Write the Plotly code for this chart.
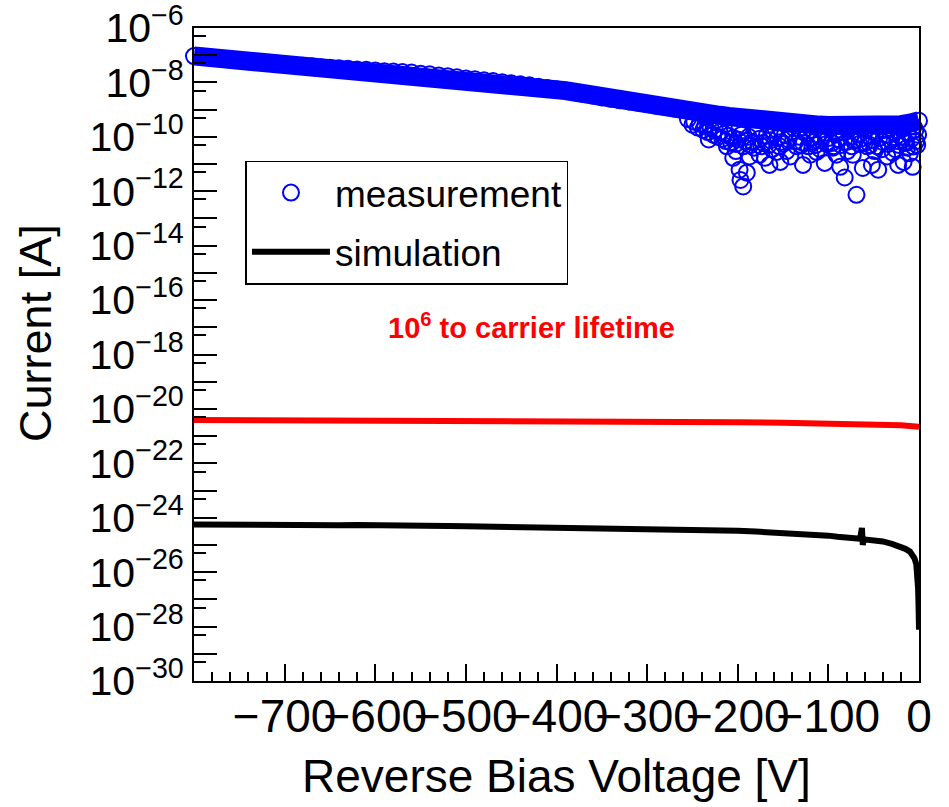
import plotly.graph_objects as go

# ---------------- data ----------------
# measurement: main band, reverse bias voltage [V] and current [A]
meas_v = [-800, -790, -780, -770, -760, -750, -740, -730, -720, -710,
          -700, -690, -680, -670, -660, -650, -640, -630, -620, -610,
          -600, -590, -580, -570, -560, -550, -540, -530, -520, -510,
          -500, -490, -480, -470, -460, -450, -440, -430, -420, -410,
          -400, -390, -380, -370, -360, -350, -340, -330, -320, -310,
          -300, -290, -280, -270, -260, -250, -240, -230, -220, -210,
          -200, -190, -180, -170, -160, -150, -140, -130, -120, -110,
          -100, -90, -80, -70, -60, -50, -40, -30, -20, -10, 0]
meas_i = [9.3e-8, 8.7e-8, 8.1e-8, 7.6e-8, 6.9e-8, 6.5e-8, 6.0e-8, 5.6e-8, 5.2e-8, 4.9e-8,
          4.6e-8, 4.4e-8, 4.1e-8, 3.9e-8, 3.6e-8, 3.5e-8, 3.3e-8, 3.2e-8, 3.0e-8, 2.9e-8,
          2.75e-8, 2.6e-8, 2.5e-8, 2.4e-8, 2.3e-8, 2.1e-8, 2.0e-8, 1.8e-8, 1.7e-8, 1.55e-8,
          1.4e-8, 1.3e-8, 1.2e-8, 1.12e-8, 1.02e-8, 9.3e-9, 8.5e-9, 7.8e-9, 6.9e-9, 6.3e-9,
          5.6e-9, 5.0e-9, 4.4e-9, 3.8e-9, 3.3e-9, 2.8e-9, 2.5e-9, 2.2e-9, 2.0e-9, 1.8e-9,
          1.6e-9, 1.4e-9, 1.26e-9, 1.1e-9, 9.8e-10, 8.7e-10, 7.8e-10, 6.9e-10, 6.2e-10, 5.6e-10,
          5.0e-10, 4.6e-10, 4.3e-10, 4.0e-10, 3.7e-10, 3.5e-10, 3.2e-10, 3.0e-10, 2.8e-10, 2.7e-10,
          2.6e-10, 2.5e-10, 2.5e-10, 2.5e-10, 2.5e-10, 2.6e-10, 2.6e-10, 2.7e-10, 2.8e-10, 3.2e-10, 3.9e-10]

# measurement: noisy low-current points below the band (-260 V .. 0 V)
meas_low_v = [-255, -248, -242, -236, -230, -225, -220, -215, -210, -205, -200, -196, -192,
              -188, -184, -180, -176, -172, -168, -164, -160, -156, -152, -148, -144, -140,
              -136, -132, -128, -124, -120, -116, -112, -108, -104, -100, -96, -92, -88, -84,
              -80, -76, -72, -68, -64, -60, -56, -52, -48, -44, -40, -36, -32, -28, -24, -20,
              -16, -12, -8, -4, -1,
              -198, -178, -158, -138, -118, -98, -78, -58, -38, -18, -6,
              -250, -244, -238, -233, -227, -222, -217, -213, -207, -202, -194, -186, -174,
              -166, -154, -150, -130, -122, -114, -102, -94, -86, -74, -66, -54, -46, -34,
              -22, -14, -3,
              -205, -198, -194, -197, -190, -187, -176, -165, -153, -170, -142, -128, -120,
              -104, -87, -82, -69, -91, -62, -52, -45, -35, -23, -17, -7, -6, -29, -73, -113, -157,
              -212, -182, -135, -95, -57, -41, -13, -2, -232, -202, -162, -146, -109, -79, -49,
              -26, -10]
meas_low_i = [4.5e-10, 3.6e-10, 3.0e-10, 2.6e-10, 2.2e-10, 1.8e-10, 1.5e-10, 1.3e-10, 1.1e-10,
              9.0e-11, 8.0e-11, 1.2e-10, 7.0e-11, 1.0e-10, 6.5e-11, 1.4e-10, 8.5e-11, 6.0e-11,
              1.1e-10, 7.5e-11, 1.3e-10, 9.0e-11, 6.5e-11, 1.2e-10, 8.0e-11, 1.5e-10, 7.0e-11,
              1.0e-10, 6.0e-11, 1.3e-10, 8.5e-11, 6.5e-11, 1.1e-10, 7.5e-11, 1.4e-10, 9.0e-11,
              6.0e-11, 1.2e-10, 8.0e-11, 1.5e-10, 6.5e-11, 1.0e-10, 7.0e-11, 1.3e-10, 8.5e-11,
              6.0e-11, 1.1e-10, 7.5e-11, 1.4e-10, 9.0e-11, 6.5e-11, 1.2e-10, 8.0e-11, 1.5e-10,
              7.0e-11, 1.0e-10, 6.5e-11, 1.3e-10, 8.5e-11, 1.8e-10, 1.2e-10,
              2.2e-10, 2.0e-10, 1.9e-10, 2.1e-10, 1.8e-10, 2.0e-10, 1.9e-10, 2.0e-10, 1.8e-10,
              2.0e-10, 2.4e-10,
              2.8e-10, 2.2e-10, 1.8e-10, 1.5e-10, 1.2e-10, 1.0e-10, 8.5e-11, 7.0e-11, 6.0e-11,
              5.5e-11, 4.5e-11, 5.0e-11, 4.5e-11, 5.0e-11, 4.5e-11, 5.5e-11, 5.0e-11, 4.5e-11,
              5.0e-11, 5.5e-11, 4.5e-11, 5.0e-11, 4.5e-11, 5.5e-11, 5.0e-11, 4.5e-11, 5.5e-11,
              5.0e-11, 6.0e-11, 7.0e-11,
              1.7e-11, 6.2e-12, 1.5e-12, 2.6e-12, 4.8e-12, 1.9e-11, 2.2e-11, 9.3e-12, 1.2e-11,
              1.7e-11, 1.9e-11, 9.3e-12, 2.2e-11, 1.1e-11, 7.9e-12, 3.2e-12, 7.4e-13, 2.2e-11,
              7.2e-12, 9.3e-12, 6.2e-12, 1.9e-11, 9.3e-12, 1.2e-11, 7.9e-12, 4.4e-11, 2.6e-11,
              2.2e-11, 2.8e-11, 2.8e-11,
              4.5e-11, 4.0e-11, 4.5e-11, 4.0e-11, 4.5e-11, 3.5e-11, 4.0e-11, 5.0e-11, 8.0e-11,
              3.0e-11, 3.5e-11, 3.0e-11, 3.5e-11, 3.0e-11, 3.0e-11, 3.5e-11, 2.5e-11]

# simulation (black)
sim_v = [-800, -780, -760, -740, -720, -700, -680, -660, -640, -620, -600, -580, -560,
         -540, -520, -500, -480, -460, -440, -420, -400, -380, -360, -340, -320, -300,
         -280, -260, -240, -220, -200, -180, -160, -140, -120, -100, -90, -80, -70, -65,
         -63, -62, -61, -60, -55, -50, -40, -30, -20, -15, -10, -7, -5, -3, -2, -1, -0.5, 0]
sim_i = [5.6e-25, 5.5e-25, 5.7e-25, 5.5e-25, 5.6e-25, 5.5e-25, 5.4e-25, 5.5e-25, 5.3e-25,
         5.4e-25, 5.2e-25, 5.2e-25, 5.1e-25, 5.0e-25, 5.0e-25, 4.9e-25, 4.8e-25, 4.8e-25,
         4.7e-25, 4.6e-25, 4.5e-25, 4.5e-25, 4.4e-25, 4.3e-25, 4.2e-25, 4.1e-25, 4.0e-25,
         3.9e-25, 3.7e-25, 3.5e-25, 3.3e-25, 3.1e-25, 2.9e-25, 2.6e-25, 2.4e-25, 2.2e-25,
         2.0e-25, 1.9e-25, 1.75e-25, 1.7e-25, 4.2e-25, 1.0e-25, 1.7e-25, 1.6e-25, 1.55e-25,
         1.5e-25, 1.35e-25, 1.1e-25, 8.5e-26, 7.2e-26, 5.7e-26, 4.3e-26, 3.2e-26, 2.0e-26,
         9.5e-27, 2.5e-27, 6.0e-28, 7.6e-29]

# simulation with 10^6 carrier lifetime (red)
red_v = [-800, -700, -600, -500, -400, -300, -200, -150, -100, -50, -20, 0]
red_i = [3.9e-21, 3.85e-21, 3.8e-21, 3.7e-21, 3.6e-21, 3.45e-21, 3.25e-21, 3.1e-21,
         2.95e-21, 2.7e-21, 2.5e-21, 2.2e-21]

# axis ticks
y_major_exp = list(range(-30, -5))
x_major = [-700, -600, -500, -400, -300, -200, -100, 0]

FONT = "Liberation Sans, Arial, Helvetica, sans-serif"
BLUE = "#0000ff"

fig = go.Figure()

# solid core of the dense measurement band
fig.add_trace(go.Scatter(x=meas_v, y=meas_i, mode="lines",
                         line=dict(color=BLUE, width=19), showlegend=False,
                         hoverinfo="skip"))
fig.add_trace(go.Scatter(x=meas_v + meas_low_v, y=meas_i + meas_low_i, mode="markers",
                         name="measurement", cliponaxis=False,
                         marker=dict(symbol="circle-open", size=16, color=BLUE,
                                     line=dict(color=BLUE, width=2)),
                         legendgroup="a"))
fig.add_trace(go.Scatter(x=red_v, y=red_i, mode="lines",
                         line=dict(color="#ff0000", width=6), showlegend=False))
fig.add_trace(go.Scatter(x=sim_v, y=sim_i, mode="lines", name="simulation",
                         line=dict(color="black", width=6), legendgroup="b"))

ytickvals = [10.0 ** e for e in y_major_exp]
yticktext = [("10<sup>\u2212%d</sup>" % (-e)) if e % 2 == 0 else "" for e in y_major_exp]
yminor = [5 * 10.0 ** (e - 1) for e in y_major_exp[1:]]

fig.update_layout(
    width=949, height=807,
    margin=dict(l=194, r=30, t=28, b=126, autoexpand=False),
    paper_bgcolor="white", plot_bgcolor="white",
    font=dict(family=FONT, color="black"),
    showlegend=True,
    legend=dict(x=0.071, y=0.797, xanchor="left", yanchor="top",
                bordercolor="black", borderwidth=1.5, bgcolor="white",
                font=dict(size=37, family=FONT), traceorder="grouped",
                tracegroupgap=8, itemwidth=78),
    xaxis=dict(range=[-800, 0], showgrid=False, zeroline=False, automargin=False,
               showline=True, linecolor="black", linewidth=2, mirror=True,
               ticks="inside", ticklen=17, tickwidth=1.5, tickcolor="black",
               tickmode="array", tickvals=x_major, tickangle=0,
               ticklabelstandoff=-6, ticklabeloverflow="allow",
               tickfont=dict(size=46, family=FONT),
               minor=dict(ticks="inside", ticklen=9, tickwidth=1.5, tickcolor="black",
                          dtick=20, tick0=0)),
    yaxis=dict(type="log", range=[-30.0005, -5.9995], showgrid=False, zeroline=False,
               automargin=False, ticklabeloverflow="allow",
               showline=True, linecolor="black", linewidth=2, mirror=True,
               ticks="inside", ticklen=23, tickwidth=1.5, tickcolor="black",
               tickmode="array", tickvals=ytickvals, ticktext=yticktext,
               tickfont=dict(size=41, family=FONT),
               minor=dict(ticks="inside", ticklen=12, tickwidth=1.5, tickcolor="black",
                          tickmode="array", tickvals=yminor)),
    annotations=[
        dict(text="Current [A]", xref="paper", yref="paper", x=-0.218, y=0.533,
             xanchor="center", yanchor="middle",
             textangle=-90, showarrow=False, font=dict(size=45, family=FONT)),
        dict(text="Reverse Bias Voltage [V]", xref="paper", yref="paper", x=0.5,
             y=-0.1455, xanchor="center", yanchor="middle",
             showarrow=False, font=dict(size=46, family=FONT)),
        dict(text="<b>10<sup>6</sup> to carrier lifetime</b>", xref="paper", yref="paper",
             x=0.466, y=0.544, xanchor="center", yanchor="middle", showarrow=False,
             font=dict(size=29, family=FONT, color="#ff0000")),
    ],
)

fig.write_html("out.html")
